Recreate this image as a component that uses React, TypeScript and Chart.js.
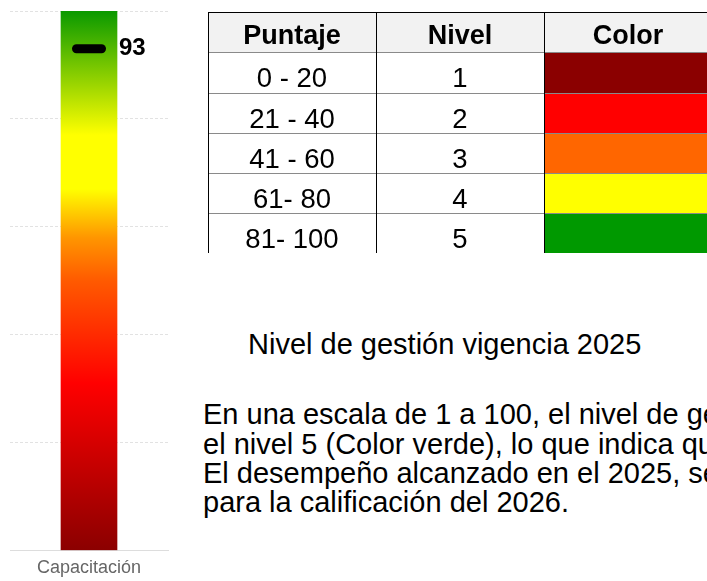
import React, { useEffect, useRef } from "react";
import { Chart, registerables } from "chart.js";

Chart.register(...registerables);

// ---- chart data ----
const categories = ["Capacitación"];
const scaleMax = [100];
const scores = [93];
const yMin = 0;
const yMax = 100;
const yStep = 20;

// ---- table data ----
const tableHeaders = ["Puntaje", "Nivel", "Color"];
const puntajes = ["0 - 20", "21 - 40", "41 - 60", "61- 80", "81- 100"];
const niveles = ["1", "2", "3", "4", "5"];
const nivelColores = ["#8b0000", "#ff0000", "#ff6600", "#ffff00", "#009900"];

// ---- texts ----
const titleText = "Nivel de gestión vigencia 2025";
const paragraphLines = [
  "En una escala de 1 a 100, el nivel de gestión",
  "el nivel 5 (Color verde), lo que indica que",
  "El desempeño alcanzado en el 2025, será",
  "para la calificación del 2026.",
];

const gradientStops: [number, string][] = [
  [0, "#8b0000"],
  [0.31, "#ff0000"],
  [0.5, "#ff5a00"],
  [0.58, "#ff9600"],
  [0.67, "#ffff00"],
  [0.77, "#ffff00"],
  [1, "#0a9900"],
];

const FONT = 'Arial, "Liberation Sans", sans-serif';

const markerPlugin = {
  id: "scoreMarker",
  afterDatasetsDraw(chart: any) {
    const { ctx, scales } = chart;
    const x = scales.x;
    const y = scales.y;
    const meta = chart.getDatasetMeta(0);
    scores.forEach((v, i) => {
      const cx = x.getPixelForValue(i);
      const py = y.getPixelForValue(v);
      const bar = meta.data[i];
      const right = bar.x + bar.width / 2;
      ctx.save();
      ctx.lineCap = "round";
      ctx.lineWidth = 9;
      ctx.strokeStyle = "#000";
      ctx.beginPath();
      ctx.moveTo(cx - 12.5, py);
      ctx.lineTo(cx + 12.5, py);
      ctx.stroke();
      ctx.font = "bold 24px " + FONT;
      ctx.fillStyle = "#000";
      ctx.textAlign = "left";
      ctx.textBaseline = "middle";
      ctx.fillText(String(v), right + 2, py);
      ctx.restore();
    });
  },
};

function GaugeChart() {
  const ref = useRef<HTMLCanvasElement | null>(null);
  useEffect(() => {
    if (!ref.current) return;
    const chart = new Chart(ref.current, {
      type: "bar",
      data: {
        labels: categories,
        datasets: [
          {
            data: scaleMax,
            barThickness: 56,
            borderWidth: 0,
            backgroundColor: (c: any) => {
              const ch = c.chart;
              if (!ch.chartArea) return "#ff0000";
              const ys = ch.scales.y;
              const g = ch.ctx.createLinearGradient(
                0,
                ys.getPixelForValue(yMin),
                0,
                ys.getPixelForValue(yMax)
              );
              gradientStops.forEach(([o, col]) => g.addColorStop(o, col));
              return g;
            },
          },
        ],
      },
      options: {
        animation: false,
        responsive: false,
        maintainAspectRatio: false,
        devicePixelRatio: 1,
        layout: { padding: { left: 10, right: 10, top: 11, bottom: 4 } },
        plugins: {
          legend: { display: false },
          tooltip: { enabled: false },
        },
        scales: {
          x: {
            grid: { display: false, drawTicks: false },
            border: { display: true, color: "#dddddd", width: 1 },
            ticks: {
              color: "#666666",
              font: { family: FONT, size: 18 },
              padding: 7,
            },
          },
          y: {
            min: yMin,
            max: yMax,
            ticks: { display: false, stepSize: yStep },
            border: { display: false, dash: [3, 2] },
            grid: {
              drawTicks: false,
              color: (c: any) =>
                c.tick && c.tick.value === yMin ? "rgba(0,0,0,0)" : "#e2e2e2",
              lineWidth: 1,
            },
          },
        },
      },
      plugins: [markerPlugin],
    } as any);
    return () => chart.destroy();
  }, []);
  return (
    <canvas
      ref={ref}
      width={178}
      height={590}
      style={{ display: "block", width: 178, height: 590 }}
    />
  );
}

export default function App() {
  const colLefts = [208, 376, 544];
  const colW = 168;
  const tableTop = 12;
  const rowH = 40.25;
  const lineYs = [0, 1, 2, 3, 4, 5].map((k) => Math.round(tableTop + rowH * k));
  return (
    <div
      style={{
        position: "fixed",
        left: 0,
        top: 0,
        width: 707,
        height: 581,
        overflow: "hidden",
        background: "#ffffff",
        fontFamily: FONT,
        color: "#000",
      }}
    >
      <div style={{ position: "absolute", left: 0, top: 0, width: 178, height: 590 }}>
        <GaugeChart />
      </div>

      {/* table */}
      <div
        style={{
          position: "absolute",
          left: 0,
          top: 0,
          width: 707,
          height: 253,
          overflow: "hidden",
        }}
      >
        <div
          style={{
            position: "absolute",
            left: colLefts[0],
            top: lineYs[0],
            width: 720 - colLefts[0],
            height: lineYs[1] - lineYs[0],
            background: "#f2f2f2",
          }}
        />
        {nivelColores.map((c, i) => (
          <div
            key={"c" + i}
            style={{
              position: "absolute",
              left: colLefts[2],
              top: lineYs[i + 1],
              width: 720 - colLefts[2],
              height: (lineYs[i + 2] ?? 260) - lineYs[i + 1],
              background: c,
            }}
          />
        ))}
        {lineYs.map((y, k) => (
          <div
            key={"h" + k}
            style={{
              position: "absolute",
              left: colLefts[0],
              top: y,
              width: 720 - colLefts[0],
              height: 1,
              background: k === 0 ? "#000" : "#8a8a8a",
            }}
          />
        ))}
        {colLefts.map((x, k) => (
          <div
            key={"v" + k}
            style={{
              position: "absolute",
              left: x,
              top: lineYs[0],
              width: 1,
              height: 260,
              background: "#000",
            }}
          />
        ))}
        {tableHeaders.map((h, k) => (
          <div
            key={"th" + k}
            style={{
              position: "absolute",
              left: colLefts[k],
              width: colW,
              top: lineYs[0] + 3,
              height: 40,
              lineHeight: "40px",
              textAlign: "center",
              fontWeight: "bold",
              fontSize: 27,
            }}
          >
            {h}
          </div>
        ))}
        {puntajes.map((p, i) => (
          <React.Fragment key={"r" + i}>
            <div
              style={{
                position: "absolute",
                left: colLefts[0],
                width: colW,
                top: lineYs[i + 1] + 6,
                height: 40,
                lineHeight: "40px",
                textAlign: "center",
                fontSize: 27.5,
              }}
            >
              {p}
            </div>
            <div
              style={{
                position: "absolute",
                left: colLefts[1],
                width: colW,
                top: lineYs[i + 1] + 6,
                height: 40,
                lineHeight: "40px",
                textAlign: "center",
                fontSize: 27.5,
              }}
            >
              {niveles[i]}
            </div>
          </React.Fragment>
        ))}
      </div>

      <div
        style={{
          position: "absolute",
          left: 248,
          top: 330.3,
          fontSize: 29,
          lineHeight: "29.3px",
          whiteSpace: "nowrap",
        }}
      >
        {titleText}
      </div>

      <div
        style={{
          position: "absolute",
          left: 203,
          top: 400.3,
          fontSize: 29,
          lineHeight: "29.3px",
          whiteSpace: "nowrap",
        }}
      >
        {paragraphLines.map((l, i) => (
          <div key={"p" + i}>{l}</div>
        ))}
      </div>
    </div>
  );
}
